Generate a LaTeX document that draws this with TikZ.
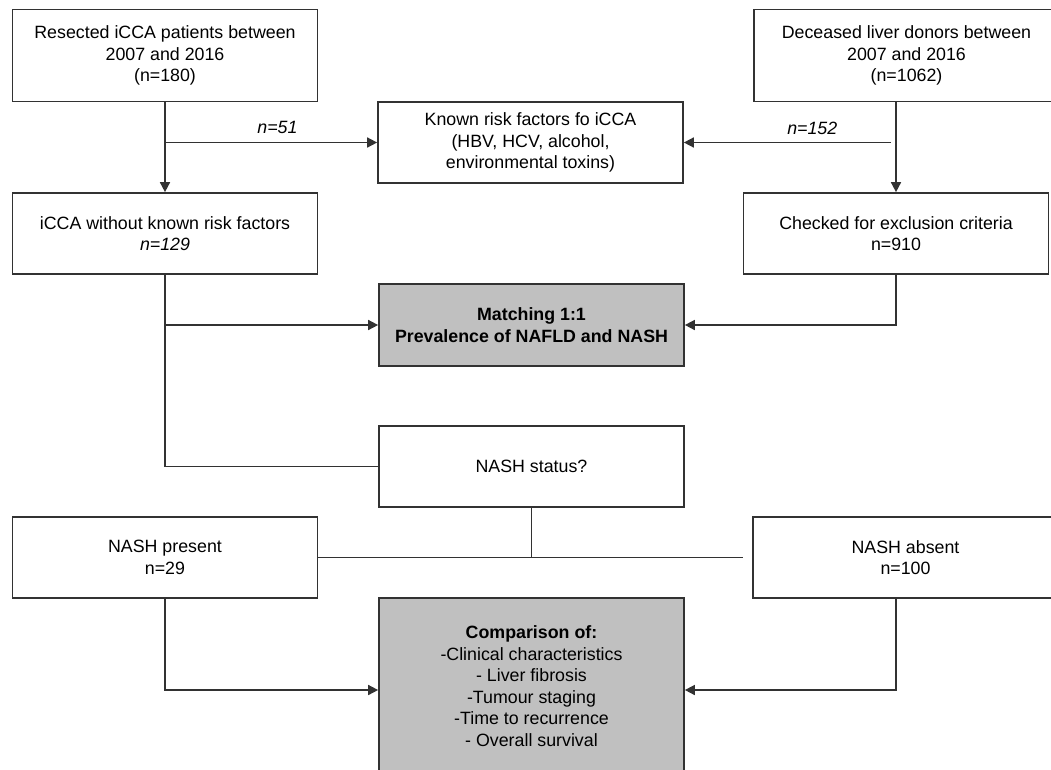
\documentclass[tikz,border=0pt]{standalone}
\usepackage{fontspec}
\setmainfont{Liberation Sans}
\usetikzlibrary{arrows.meta,calc}
\definecolor{boxgray}{RGB}{192,192,192}
\definecolor{linecol}{RGB}{50,50,50}
\tikzset{
  fbox/.style={draw=linecol, line width=1.7pt, rectangle, minimum width=305pt, inner sep=0pt, align=center,
    font=\fontsize{17.8}{21.5}\selectfont},
  graybox/.style={fbox, fill=boxgray},
  conn/.style={draw=linecol, line width=1.6pt},
  arr/.style={conn, -{Triangle[length=10pt,width=10pt]}},
  lbl/.style={font=\fontsize{17.8}{21.5}\selectfont\itshape, inner sep=0pt}
}
\begin{document}
\begin{tikzpicture}[x=1pt,y=-1pt]
\clip (0,0) rectangle (1051,769);
\fill[white] (0,0) rectangle (1051,769);

\node[fbox, minimum height=92pt] (res) at (165,55.5) {Resected iCCA patients between\\2007 and 2016\\(n=180)};
\node[fbox, minimum height=92pt] (dec) at (906.5,55.5) {Deceased liver donors between\\2007 and 2016\\(n=1062)};
\node[fbox, minimum height=81pt] (known) at (530.5,142.5) {Known risk factors fo iCCA\\(HBV, HCV, alcohol,\\environmental toxins)};
\node[fbox, minimum height=81pt] (icca) at (165,233.5) {iCCA without known risk factors\\\textit{n=129}};
\node[fbox, minimum height=81pt] (chk) at (896,233.5) {Checked for exclusion criteria\\n=910};
\node[graybox, minimum height=82pt, font=\fontsize{17.8}{21.5}\selectfont\bfseries] (match) at (531.5,325) {Matching 1:1\\Prevalence of NAFLD and NASH};
\node[fbox, minimum height=81pt] (nstat) at (531.5,466.5) {NASH status?};
\node[fbox, minimum height=81pt] (npres) at (165,557.5) {NASH present\\n=29};
\node[fbox, minimum height=81pt] (nabs) at (905.5,557.5) {NASH absent\\n=100};
\node[graybox, minimum height=176pt] (comp) at (531.5,686) {\textbf{Comparison of:}\\-Clinical characteristics\\- Liver fibrosis\\-Tumour staging\\-Time to recurrence\\- Overall survival};

% top left
\draw[arr] (res.south) -- (icca.north);
\draw[arr] (res.south |- known.west) -- node[lbl, pos=0.53, above, yshift=8pt] (l51) {n=51} (known.west);
% top right
\draw[arr] (dec.south -| chk.north) -- (chk.north);
\coordinate (c152) at ($(chk.north |- known.east)+(-5,0)$);
\draw[arr] (c152) -- node[lbl, pos=0.38, above, yshift=7pt] (l152) {n=152} (known.east);
% to matching
\draw[arr] (icca.south) |- (match.west);
\draw[arr] (chk.south) |- (match.east);
% to NASH status
\draw[conn] (icca.south) |- (nstat.west);
% split
\draw[conn] (nstat.south) -- (nstat.south |- npres.east);
\draw[conn, shorten >=9pt] (npres.east) -- (nabs.west);
% to comparison
\draw[arr] (npres.south) |- ($(comp.west)+(0,4)$);
\draw[arr] (nabs.south -| chk.south) |- ($(comp.east)+(0,4)$);
\end{tikzpicture}
\end{document}
